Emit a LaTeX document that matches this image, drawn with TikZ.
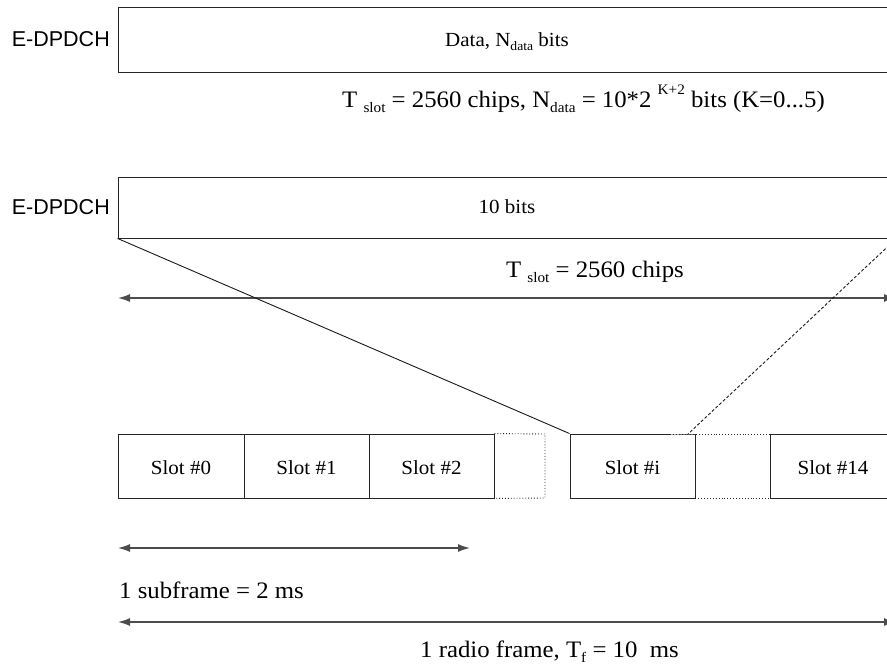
\documentclass[tikz,border=0pt]{standalone}
\usepackage{fontspec}
\setmainfont{Liberation Serif}[FakeStretch=1.05]
\newfontfamily\arialfont{Liberation Sans}
\usetikzlibrary{arrows.meta}
\newcommand\bsub[1]{\raisebox{-0.22em}{\fontsize{14.5}{14.5}\selectfont #1}}
\newcommand\bsup[1]{\raisebox{0.55em}{\fontsize{14.5}{14.5}\selectfont #1}}
\newcommand\ssub[1]{\raisebox{-0.22em}{\fontsize{13}{13}\selectfont #1}}
\tikzset{
  boxs/.style={draw=black!85, line width=0.9pt, inner sep=0pt, minimum height=64pt},
  bigtxt/.style={font=\fontsize{23.6}{23.6}\selectfont, inner sep=0pt},
  smtxt/.style={font=\fontsize{20}{20}\selectfont, inner sep=0pt},
  lbl/.style={font=\arialfont\fontsize{21.5}{21.5}\selectfont, inner sep=0pt, anchor=base east},
  darr/.style={draw=black!70, line width=1.4pt, {Latex[length=12pt,width=8pt]}-{Latex[length=12pt,width=8pt]}},
  dotl/.style={draw=black!85, line width=0.9pt, dotted},
  dashl/.style={draw=black!90, line width=0.9pt, dashed, dash pattern=on 3pt off 2pt},
  solidl/.style={draw=black!90, line width=0.9pt}
}
\begin{document}
\begin{tikzpicture}[x=1pt,y=-1pt]
\useasboundingbox (0,0) rectangle (887,665);
\clip (0,0) rectangle (887,665);
% top channel
\node[boxs, minimum width=778pt, minimum height=65pt] (topbox) at (507,39.5) {};
\node[lbl] (lbltop) at (110,46) {E-DPDCH};
\node[smtxt, anchor=base] (datatxt) at (507,46) {Data, N\ssub{data} bits};
\node[bigtxt, anchor=base west] (formula) at (342,107) {T \bsub{slot} = 2560 chips, N\bsub{data} = 10*2 \bsup{K+2} bits (K=0...5)};
% second channel
\node[boxs, minimum width=778pt, minimum height=61pt] (box2) at (507,207.5) {};
\node[lbl] (lbl2) at (110,214) {E-DPDCH};
\node[smtxt, anchor=base] (tenbits) at (507,213) {10 bits};
\node[bigtxt, anchor=base] (tslot) at (595,277) {T \bsub{slot} = 2560 chips};
\coordinate (a1l) at (118,298);
\coordinate (a1r) at (896,298);
\draw[darr] (a1l) -- (a1r);
% slots
\node[boxs, minimum width=126pt] (s0) at (181,466) {};
\node[boxs, minimum width=125pt] (s1) at (306.5,466) {};
\node[boxs, minimum width=125pt] (s2) at (431.5,466) {};
\node[boxs, minimum width=125pt] (si) at (632.5,466) {};
\node[boxs, minimum width=126pt] (s14) at (833,466) {};
\node[smtxt, anchor=base] (t0) at (s0.center |- 0,474) {Slot \#0};
\node[smtxt, anchor=base] (t1) at (s1.center |- 0,474) {Slot \#1};
\node[smtxt, anchor=base] (t2) at (s2.center |- 0,474) {Slot \#2};
\node[smtxt, anchor=base] (ti) at (si.center |- 0,474) {Slot \#i};
\node[smtxt, anchor=base] (t14) at (s14.center |- 0,474) {Slot \#14};
\coordinate (d1t) at (545,434);
\coordinate (d1b) at (545,498);
\draw[dotl] (s2.north east) -- (d1t) -- (d1b) -- (s2.south east);
\coordinate (g1) at (670,434);
\coordinate (g2) at (820,434);
\draw[white, line width=1.3pt] (g1) -- (si.north east);
\draw[dotl] (g1) -- (g2);
\draw[dotl] (si.south east) -- (s14.south west);
% expansion lines
\coordinate (dj) at (688,434);
\draw[solidl] (box2.south west) -- (si.north west);
\draw[dashl] (box2.south east) -- (dj);
% subframe / radio frame
\coordinate (a2l) at (118,548);
\coordinate (a2r) at (470,548);
\draw[darr] (a2l) -- (a2r);
\node[bigtxt, anchor=base west] (subtxt) at (119,598) {1 subframe = 2 ms};
\coordinate (a3l) at (118,622);
\coordinate (a3r) at (896,622);
\draw[darr] (a3l) -- (a3r);
\node[bigtxt, anchor=base] (radiotxt) at (549.5,657) {1 radio frame, T\bsub{f} = 10~ ms};
\end{tikzpicture}
\end{document}
